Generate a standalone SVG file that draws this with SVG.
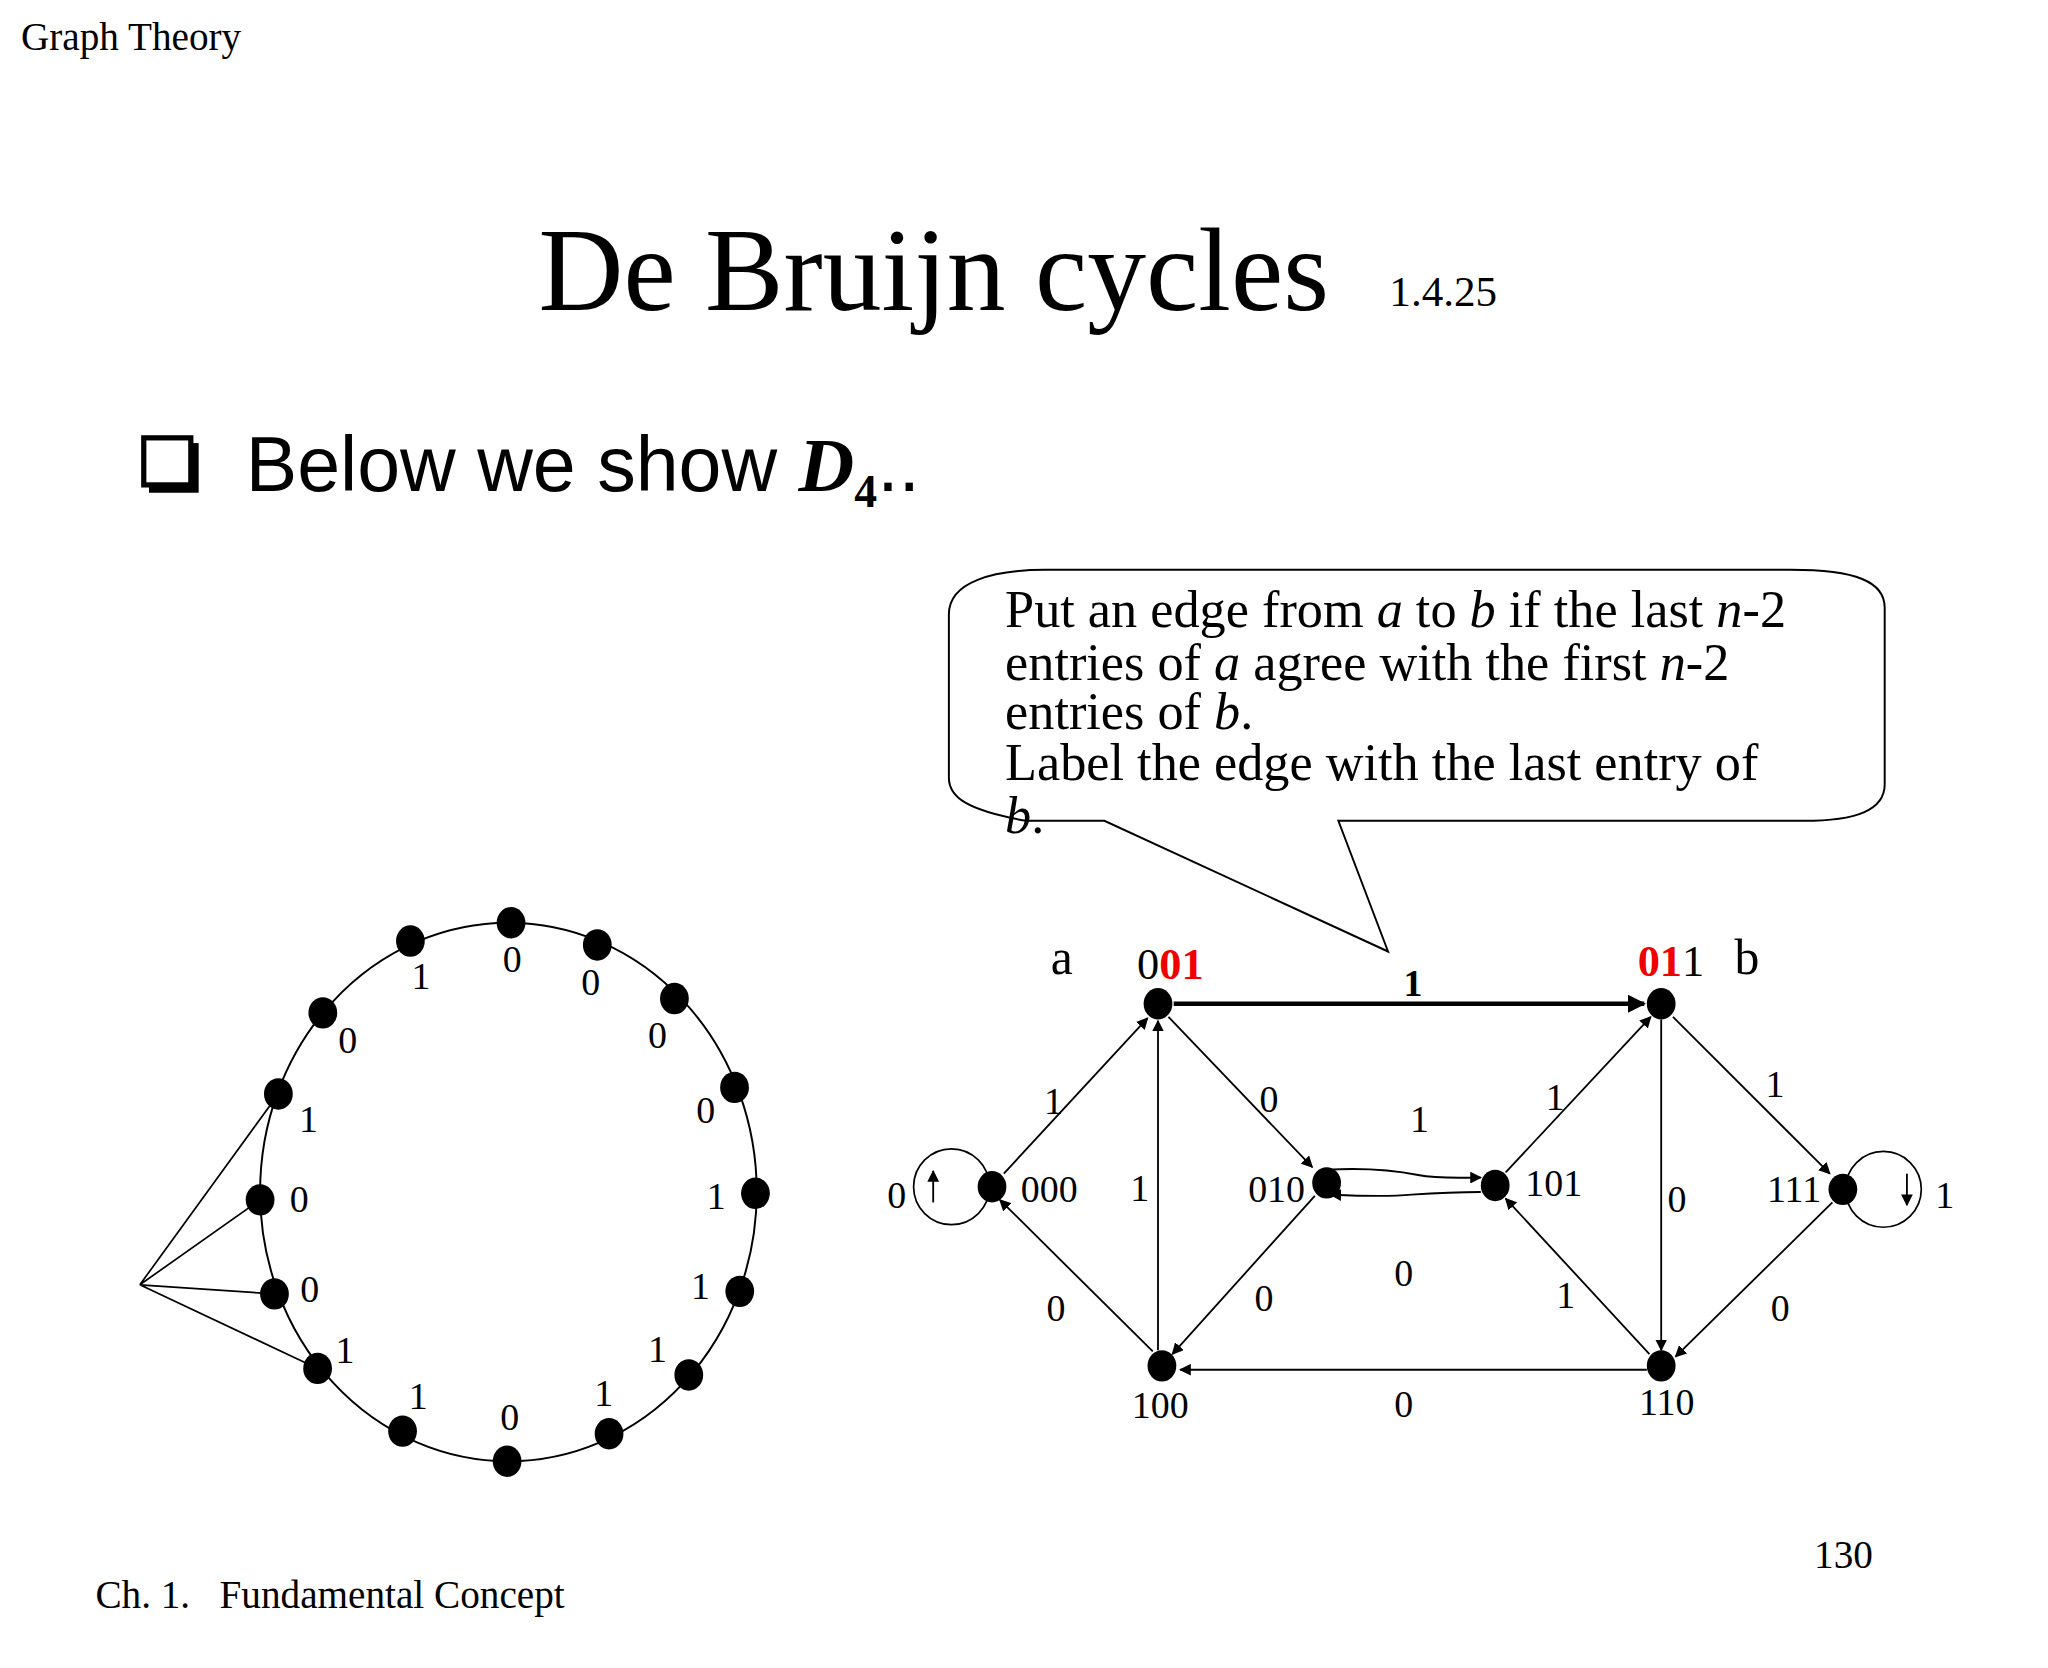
<svg xmlns="http://www.w3.org/2000/svg" width="2048" height="1668" viewBox="0 0 2048 1668">
<defs>
<marker id="ar" viewBox="0 0 10 10" refX="9" refY="5" markerWidth="9" markerHeight="9" markerUnits="userSpaceOnUse" orient="auto"><path d="M0,0L10,5L0,10z" fill="#000"/></marker>
<marker id="arb" viewBox="0 0 10 10" refX="9" refY="5" markerWidth="14" markerHeight="14" markerUnits="userSpaceOnUse" orient="auto"><path d="M0,0L10,5L0,10z" fill="#000"/></marker>
</defs>
<style>
.t{font-family:"Liberation Serif",serif;fill:#000}
.l{font-size:29px}
.e{stroke:#000;stroke-width:1.4;fill:none;marker-end:url(#ar)}
.n{fill:#000}
</style>
<rect width="2048" height="1668" fill="#fff"/>
<g transform="scale(1.307)">
<text class="t" x="16" y="38" font-size="30">Graph Theory</text>
<text class="t" x="412" y="237" font-size="90">De Bruijn cycles</text>
<text class="t" x="1063" y="234" font-size="33">1.4.25</text>
<g id="bullet"><rect x="114" y="339" width="38" height="38" fill="#000"/><rect x="110" y="335" width="36" height="36" fill="#fff" stroke="#000" stroke-width="4"/></g>
<text x="188" y="376" font-family="Liberation Sans,sans-serif" font-size="59">Below we show <tspan font-family="Liberation Serif,serif" font-weight="bold" font-style="italic">D</tspan><tspan font-family="Liberation Serif,serif" font-weight="bold" font-size="35" dy="12">4</tspan><tspan dy="-12">..</tspan></text>
<text class="t" x="73" y="1230" font-size="30" xml:space="preserve">Ch. 1.   Fundamental Concept</text>
<text class="t" x="1388" y="1200" font-size="30">130</text>
<g id="callout">
<path d="M845,628 L785,628 C740,620 726,610 726,595 L726,470 C726,445 760,436 800,436 L1370,436 C1420,436 1442,445 1442,465 L1442,600 C1442,620 1420,628 1380,628 L1024,628 L1062,728 Z" fill="#fff" stroke="#000" stroke-width="1.5"/>
<text class="t" font-size="40"><tspan x="769" y="480">Put an edge from <tspan font-style="italic">a</tspan> to <tspan font-style="italic">b</tspan> if the last <tspan font-style="italic">n</tspan>-2</tspan><tspan x="769" y="520">entries of <tspan font-style="italic">a</tspan> agree with the first <tspan font-style="italic">n</tspan>-2</tspan><tspan x="769" y="558">entries of <tspan font-style="italic">b</tspan>.</tspan><tspan x="769" y="597">Label the edge with the last entry of</tspan><tspan x="769" y="637"><tspan font-style="italic">b</tspan>.</tspan></text>
</g>
<g id="cycle">
<ellipse cx="389" cy="912" rx="190" ry="206" fill="none" stroke="#000" stroke-width="1.5"/>
<path d="M107,983L213,837M107,983L199,918M107,983L210,990M107,983L243,1047" stroke="#000" stroke-width="1.3" fill="none"/>
<g class="n">
<ellipse cx="314" cy="720" rx="11" ry="12"/><ellipse cx="391" cy="706" rx="11" ry="12"/><ellipse cx="457" cy="723" rx="11" ry="12"/><ellipse cx="516" cy="764" rx="11" ry="12"/><ellipse cx="562" cy="832" rx="11" ry="12"/><ellipse cx="578" cy="913" rx="11" ry="12"/><ellipse cx="566" cy="988" rx="11" ry="12"/><ellipse cx="527" cy="1052" rx="11" ry="12"/><ellipse cx="466" cy="1097" rx="11" ry="12"/><ellipse cx="388" cy="1118" rx="11" ry="12"/><ellipse cx="308" cy="1095" rx="11" ry="12"/><ellipse cx="243" cy="1047" rx="11" ry="12"/><ellipse cx="210" cy="990" rx="11" ry="12"/><ellipse cx="199" cy="918" rx="11" ry="12"/><ellipse cx="213" cy="837" rx="11" ry="12"/><ellipse cx="247" cy="775" rx="11" ry="12"/>
</g>
<g class="t l" text-anchor="middle">
<text x="322" y="757">1</text><text x="392" y="744">0</text><text x="452" y="761">0</text><text x="503" y="802">0</text><text x="540" y="859">0</text><text x="548" y="925">1</text><text x="536" y="994">1</text><text x="503" y="1042">1</text><text x="462" y="1076">1</text><text x="390" y="1094">0</text><text x="320" y="1078">1</text><text x="264" y="1043">1</text><text x="237" y="996">0</text><text x="229" y="927">0</text><text x="236" y="866">1</text><text x="266" y="806">0</text>
</g>
</g>
<g id="connectors">
<line x1="898" y1="768" x2="1258" y2="768" stroke="#000" stroke-width="3.5" marker-end="url(#arb)"/>
<line class="e" x1="768" y1="898" x2="878" y2="779"/>
<line class="e" x1="886" y1="1033" x2="886" y2="781"/>
<line class="e" x1="894" y1="778" x2="1004" y2="893"/>
<line class="e" x1="1006" y1="915" x2="897" y2="1036"/>
<line class="e" x1="882" y1="1034" x2="765" y2="918"/>
<line class="e" x1="1260" y1="1048" x2="903" y2="1048"/>
<line class="e" x1="1152" y1="897" x2="1263" y2="778"/>
<line class="e" x1="1271" y1="780" x2="1271" y2="1033"/>
<line class="e" x1="1280" y1="778" x2="1400" y2="898"/>
<line class="e" x1="1402" y1="920" x2="1282" y2="1038"/>
<line class="e" x1="1262" y1="1036" x2="1152" y2="917"/>
<path class="e" d="M1015,895 C1050,893 1070,896 1085,899 C1100,902 1115,901 1133,901"/>
<path class="e" d="M1133,912 C1110,912 1095,913 1080,914 C1060,916 1040,915 1018,914"/>
<circle cx="728" cy="908" r="29" fill="none" stroke="#000" stroke-width="1.3"/>
<line class="e" x1="714" y1="920" x2="714" y2="896"/>
<circle cx="1441" cy="910" r="29" fill="none" stroke="#000" stroke-width="1.3"/>
<line class="e" x1="1459" y1="898" x2="1459" y2="922"/>
</g>
<g class="t l" text-anchor="middle">
<text x="806" y="852">1</text><text x="872" y="919">1</text><text x="971" y="851">0</text><text x="967" y="1003">0</text><text x="808" y="1011">0</text><text x="1074" y="1084">0</text><text x="1190" y="849">1</text><text x="1283" y="927">0</text><text x="1358" y="839">1</text><text x="1362" y="1011">0</text><text x="1198" y="1001">1</text><text x="1086" y="866">1</text><text x="1074" y="984">0</text><text x="686" y="924">0</text><text x="1488" y="924">1</text>
<text x="1081" y="762" font-weight="bold">1</text>
</g>
<g id="n001"><ellipse class="n" cx="886" cy="768" rx="11" ry="12"/><text class="t" x="870" y="749" font-size="34">0<tspan fill="#e00" font-weight="bold">01</tspan></text><text class="t" x="804" y="745" font-size="38">a</text></g>
<g id="n011"><ellipse class="n" cx="1271" cy="768" rx="11" ry="12"/><text class="t" x="1253" y="747" font-size="34"><tspan fill="#e00" font-weight="bold">01</tspan>1</text><text class="t" x="1327" y="745" font-size="38">b</text></g>
<g id="n000"><ellipse class="n" cx="759" cy="908" rx="11" ry="12"/><text class="t l" x="781" y="920">000</text></g>
<g id="n010"><ellipse class="n" cx="1015" cy="905" rx="11" ry="12"/><text class="t l" x="955" y="920">010</text></g>
<g id="n101"><ellipse class="n" cx="1144" cy="907" rx="11" ry="12"/><text class="t l" x="1167" y="915">101</text></g>
<g id="n111"><ellipse class="n" cx="1410" cy="910" rx="11" ry="12"/><text class="t l" x="1352" y="920">111</text></g>
<g id="n100"><ellipse class="n" cx="889" cy="1045" rx="11" ry="12"/><text class="t l" x="866" y="1085">100</text></g>
<g id="n110"><ellipse class="n" cx="1271" cy="1045" rx="11" ry="12"/><text class="t l" x="1254" y="1083">110</text></g>
</g>
</svg>
